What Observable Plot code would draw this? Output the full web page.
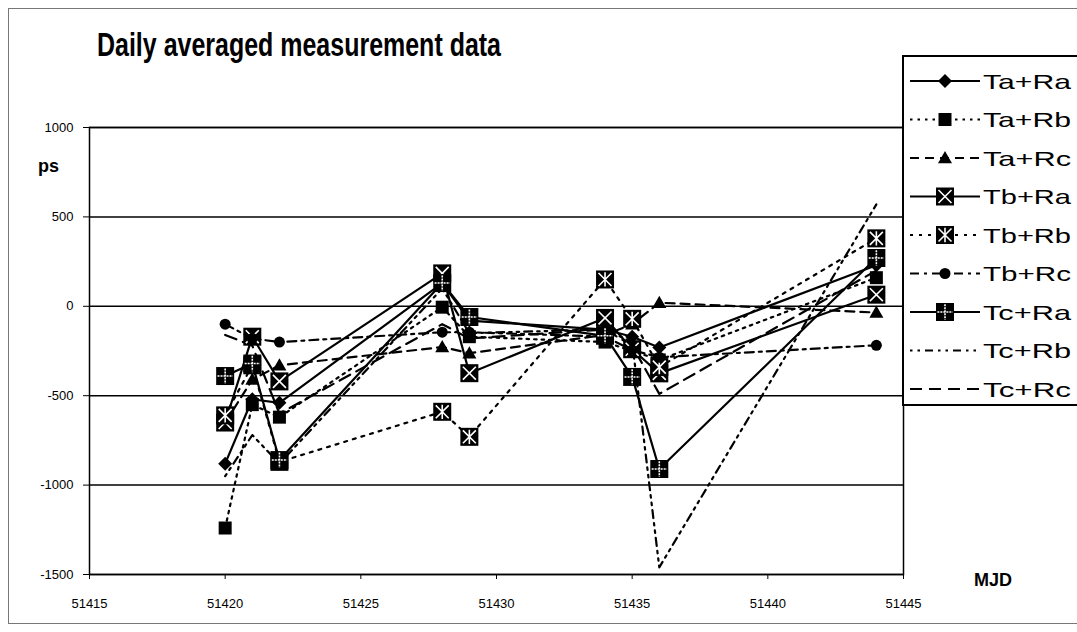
<!DOCTYPE html>
<html><head><meta charset="utf-8">
<script src="https://cdn.jsdelivr.net/npm/d3@7"></script>
<script src="https://cdn.jsdelivr.net/npm/@observablehq/plot@0.6"></script>
<style>
body{margin:0;background:#fff;font-family:"Liberation Sans",Arial,sans-serif;}
#wrap{position:relative;width:1077px;height:632px;overflow:hidden;background:#fff;}
#outer{position:absolute;left:8px;top:8px;width:1100px;height:616px;border:1px solid #777;box-sizing:border-box;}
#chart{position:absolute;left:0;top:0;}
#title{position:absolute;left:0;top:0;}
.lab{position:absolute;font-weight:bold;font-size:18px;color:#000;}
#legend{position:absolute;left:902px;top:55px;}
</style></head>
<body><div id="wrap"><div id="outer"></div><div id="chart"></div>
<svg id="title" width="800" height="70"><text x="97" y="56" font-family="Liberation Sans, Arial, sans-serif" font-weight="bold" font-size="34" textLength="404" lengthAdjust="spacingAndGlyphs">Daily averaged measurement data</text></svg>
<div class="lab" style="left:38px;top:156px;">ps</div>
<div class="lab" style="left:974px;top:570px;">MJD</div>
<svg id="legend" width="175" height="352"></svg>
</div>
<script>
const mjd = [51420, 51421, 51422, 51428, 51429, 51434, 51435, 51436, 51444];
const seriesNames = ["Ta+Ra","Ta+Rb","Ta+Rc","Tb+Ra","Tb+Rb","Tb+Rc","Tc+Ra","Tc+Rb","Tc+Rc"];
const TaRa = [-880, -520, -540, 130, -80, -130, -170, -230, 230];
const TaRb = [-1240, -550, -620, -5, -170, -200, -250, -300, 160];
const TaRc = [-650, -410, -330, -228, -262, -160, -100, 20, -35];
const TbRa = [-650, -170, -420, 184, -374, -65, -240, -375, 65];
const TbRb = [-610, -330, -870, -590, -730, 150, -70, -340, 380];
const TbRc = [-100, -180, -200, -145, -145, -170, -245, -285, -218];
const TcRa = [-390, -320, -860, 130, -60, -165, -395, -910, 270];
const TcRb = [-950, -720, -880, 100, -150, -130, -200, -1460, 570];
const TcRc = [-160, -220, -600, -100, -180, -130, -220, -490, 200];
const xTicks = [51415, 51420, 51425, 51430, 51435, 51440, 51445];
const yTicks = [-1500, -1000, -500, 0, 500, 1000];

const values = [TaRa, TaRb, TaRc, TbRa, TbRb, TbRc, TcRa, TcRb, TcRc];
const rows = [];
seriesNames.forEach((s, i) => mjd.forEach((m, j) => rows.push({series: s, mjd: m, v: values[i][j]})));

const R = size => Math.sqrt(size / Math.PI);
const symSquare = {draw(c, s){const r = R(s); c.rect(-r, -r, 2*r, 2*r);}};
const symDiamond = {draw(c, s){const r = R(s); c.moveTo(0,-r); c.lineTo(r,0); c.lineTo(0,r); c.lineTo(-r,0); c.closePath();}};
const symTri = {draw(c, s){const r = R(s); c.moveTo(0,-r); c.lineTo(r,r*0.75); c.lineTo(-r,r*0.75); c.closePath();}};
const symX = {draw(c, s){const r = R(s)*0.72; c.moveTo(-r,-r); c.lineTo(r,r); c.moveTo(r,-r); c.lineTo(-r,r);}};
const symAst = {draw(c, s){const r = R(s)*0.72; c.moveTo(-r,-r); c.lineTo(r,r); c.moveTo(r,-r); c.lineTo(-r,r); c.moveTo(0,-r*1.1); c.lineTo(0,r*1.1);}};
const symPlus = {draw(c, s){const r = R(s)*0.85; c.moveTo(-r,0); c.lineTo(r,0); c.moveTo(0,-r); c.lineTo(0,r);}};
const symCircle = {draw(c, s){const r = R(s); c.moveTo(r,0); c.arc(0,0,r,0,2*Math.PI);}};

const styles = {
  "Ta+Ra": {dash: null, layers: [{sym: symDiamond, r: 7, fill: "black"}]},
  "Ta+Rb": {dash: "2.5,5", layers: [{sym: symSquare, r: 6.5, fill: "black"}]},
  "Ta+Rc": {dash: "9,6", layers: [{sym: symTri, r: 7, fill: "black"}]},
  "Tb+Ra": {dash: null, layers: [{sym: symSquare, r: 9, fill: "black"}, {sym: symX, r: 9, stroke: "white"}]},
  "Tb+Rb": {dash: "3,6", layers: [{sym: symSquare, r: 9, fill: "black"}, {sym: symAst, r: 9, stroke: "white"}]},
  "Tb+Rc": {dash: "9,5,3,5", layers: [{sym: symCircle, r: 5.5, fill: "black"}]},
  "Tc+Ra": {dash: null, layers: [{sym: symSquare, r: 9, fill: "black"}, {sym: symPlus, r: 9, stroke: "white", dash: "2,1"}]},
  "Tc+Rb": {dash: "2.5,5,2.5,5,8,5", layers: []},
  "Tc+Rc": {dash: "12,7", layers: []}
};

const marks = [
  Plot.ruleY(yTicks, {stroke: "black", strokeWidth: 1.5}),
  Plot.frame({stroke: "black", strokeWidth: 1.5}),
  Plot.axisX(xTicks, {tickSize: 5, tickPadding: 19, tickFormat: d => String(d), fontSize: 13, label: null}),
  Plot.axisY(yTicks, {tickSize: 6, tickPadding: 10, tickFormat: d => String(d), fontSize: 13, label: null})
];
seriesNames.forEach(s => {
  const st = styles[s];
  marks.push(Plot.line(rows.filter(d => d.series === s), {x: "mjd", y: "v", stroke: "black", strokeWidth: 2.2, strokeDasharray: st.dash || undefined}));
});
seriesNames.forEach(s => {
  const st = styles[s];
  const data = rows.filter(d => d.series === s);
  st.layers.forEach(L => {
    marks.push(Plot.dot(data, {x: "mjd", y: "v", symbol: L.sym, r: L.r,
      fill: L.fill || "none", stroke: L.stroke || "none", strokeWidth: L.stroke ? 1.6 : 0,
      strokeDasharray: L.dash || undefined}));
  });
});

const chart = Plot.plot({
  width: 1077, height: 632,
  marginLeft: 89, marginRight: 174, marginTop: 127, marginBottom: 58,
  x: {domain: [51415, 51445]},
  y: {domain: [-1500, 1000]},
  style: {fontFamily: "Liberation Sans, Arial, sans-serif", color: "black", background: "transparent"},
  marks
});
document.getElementById("chart").appendChild(chart);

const lg = d3.select("#legend");
lg.append("rect").attr("x", 1).attr("y", 1).attr("width", 220).attr("height", 349).attr("fill", "white").attr("stroke", "black").attr("stroke-width", 2);
seriesNames.forEach((s, i) => {
  const st = styles[s];
  const y = 26 + i * 38.5;
  lg.append("line").attr("x1", 8).attr("x2", 78).attr("y1", y).attr("y2", y)
    .attr("stroke", "black").attr("stroke-width", 2.2).attr("stroke-dasharray", st.dash);
  st.layers.forEach(L => {
    lg.append("path").attr("transform", `translate(43,${y})`)
      .attr("d", d3.symbol(L.sym, L.r * L.r * Math.PI)())
      .attr("fill", L.fill || "none").attr("stroke", L.stroke || "none")
      .attr("stroke-width", L.stroke ? 1.6 : 0).attr("stroke-dasharray", L.dash || null);
  });
  lg.append("text").attr("x", 81).attr("y", y + 7.5).attr("font-size", 21)
    .attr("font-family", "Liberation Sans, Arial, sans-serif")
    .attr("textLength", 88).attr("lengthAdjust", "spacingAndGlyphs").text(s);
});
</script>
</body></html>
